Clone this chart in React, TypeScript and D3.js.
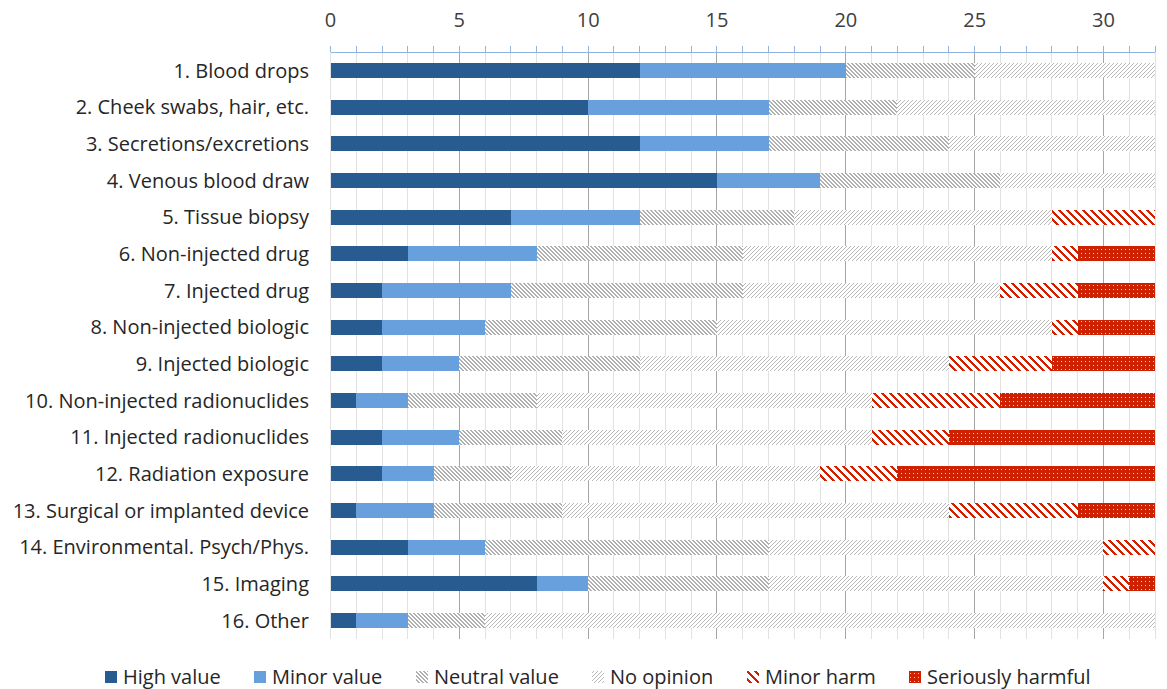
import React from "react";
import * as d3 from "d3";

// Survey categories (top to bottom)
const categories = [
  "1. Blood drops",
  "2. Cheek swabs, hair, etc.",
  "3. Secretions/excretions",
  "4. Venous blood draw",
  "5. Tissue biopsy",
  "6. Non-injected drug",
  "7. Injected drug",
  "8. Non-injected biologic",
  "9. Injected biologic",
  "10. Non-injected radionuclides",
  "11. Injected radionuclides",
  "12. Radiation exposure",
  "13. Surgical or implanted device",
  "14. Environmental. Psych/Phys.",
  "15. Imaging",
  "16. Other",
];

// Response counts per category
const highValue = [12, 10, 12, 15, 7, 3, 2, 2, 2, 1, 2, 2, 1, 3, 8, 1];
const minorValue = [8, 7, 5, 4, 5, 5, 5, 4, 3, 2, 3, 2, 3, 3, 2, 2];
const neutralValue = [5, 5, 7, 7, 6, 8, 9, 9, 7, 5, 4, 3, 5, 11, 7, 3];
const noOpinion = [7, 10, 8, 6, 10, 12, 10, 13, 12, 13, 12, 12, 15, 13, 13, 26];
const minorHarm = [0, 0, 0, 0, 4, 1, 3, 1, 4, 5, 3, 3, 5, 2, 1, 0];
const seriouslyHarmful = [0, 0, 0, 0, 0, 3, 3, 3, 4, 6, 8, 10, 3, 0, 1, 0];

const seriesNames = [
  "High value",
  "Minor value",
  "Neutral value",
  "No opinion",
  "Minor harm",
  "Seriously harmful",
];

const xTicks = [0, 5, 10, 15, 20, 25, 30];
const xMax = 32;

const FONT = "'Open Sans', sans-serif";
const RED = "#cf2000";

const fills = [
  "#285b90",
  "#67a0dc",
  "url(#pNeutral)",
  "url(#pNoOpinion)",
  "url(#pMinorHarm)",
  "url(#pSerious)",
];

// Pixel tile for diagonal hatching: dir 1 = "\", dir -1 = "/"
function diagPixels(size: number, period: number, thick: number, dir: number) {
  const px: { x: number; y: number }[] = [];
  for (let y = 0; y < size; y++) {
    for (let x = 0; x < size; x++) {
      const v = dir > 0 ? (x - y + size * 4) % period : (x + y) % period;
      if (v < thick) px.push({ x, y });
    }
  }
  return px;
}

function Hatch({ id, size, period, thick, dir, color }: any) {
  const px = diagPixels(size, period, thick, dir);
  return (
    <pattern id={id} patternUnits="userSpaceOnUse" width={size} height={size}>
      <rect width={size} height={size} fill="#ffffff" />
      {px.map((p, i) => (
        <rect key={i} x={p.x} y={p.y} width={1} height={1} fill={color} />
      ))}
    </pattern>
  );
}

export default function App() {
  const width = 1167;
  const height = 689;
  const left = 330.5;
  const right = 1155;
  const top = 52;
  const bottom = 639;

  const x = d3.scaleLinear().domain([0, xMax]).range([left, right]);
  const y = d3
    .scaleBand<string>()
    .domain(categories)
    .range([top, bottom])
    .paddingInner(0.59)
    .paddingOuter(0.295);

  const rows = categories.map((c, i) => ({
    cat: c,
    s0: highValue[i],
    s1: minorValue[i],
    s2: neutralValue[i],
    s3: noOpinion[i],
    s4: minorHarm[i],
    s5: seriouslyHarmful[i],
  }));
  const stack = d3.stack<any>().keys(["s0", "s1", "s2", "s3", "s4", "s5"]);
  const layers = stack(rows);

  const units = d3.range(0, xMax + 1);

  const legendX = [105, 254, 416, 592, 747, 909];

  return (
    <svg
      width={width}
      height={height}
      style={{ position: "absolute", left: 0, top: 0, background: "#fff" }}
      fontFamily={FONT}
    >
      <defs>
        <Hatch id="pNeutral" size={8} period={4} thick={2} dir={1} color="#b0b0b0" />
        <Hatch id="pNoOpinion" size={8} period={4} thick={1} dir={-1} color="#b8b8b8" />
        <Hatch id="pMinorHarm" size={8} period={8} thick={3} dir={1} color={RED} />
        <pattern id="pSerious" patternUnits="userSpaceOnUse" width={4} height={4}>
          <rect width={4} height={4} fill={RED} />
          <rect x={1} y={1} width={1} height={1} fill="#f7d0c4" />
        </pattern>
      </defs>

      {/* vertical gridlines */}
      <g shapeRendering="crispEdges">
        {units.map((u) => (
          <line
            key={u}
            x1={x(u)}
            x2={x(u)}
            y1={top}
            y2={bottom}
            stroke={u % 5 === 0 && u > 0 ? "#a6a6a6" : "#e2e2e2"}
            strokeWidth={1}
          />
        ))}
      </g>

      {/* stacked bars */}
      <g shapeRendering="crispEdges">
        {layers.map((layer, li) =>
          layer.map((d, i) => {
            const w = x(d[1]) - x(d[0]);
            if (w <= 0) return null;
            return (
              <rect
                key={`${li}-${i}`}
                x={x(d[0])}
                y={y(categories[i])}
                width={w}
                height={y.bandwidth()}
                fill={fills[li]}
              />
            );
          })
        )}
      </g>

      {/* top axis */}
      <g shapeRendering="crispEdges">
        <line x1={left} x2={right} y1={top} y2={top} stroke="#8fb4e3" strokeWidth={1} />
        {units.map((u) => (
          <line key={u} x1={x(u)} x2={x(u)} y1={top - 6} y2={top} stroke="#8fb4e3" />
        ))}
      </g>
      {xTicks.map((t) => (
        <text
          key={t}
          x={x(t)}
          y={27}
          textAnchor="middle"
          fontSize={20}
          fill="#404040"
        >
          {t}
        </text>
      ))}

      {/* category labels */}
      {categories.map((c) => (
        <text
          key={c}
          x={309}
          y={(y(c) as number) + y.bandwidth() / 2}
          dy="0.36em"
          textAnchor="end"
          fontSize={20}
          fill="#262626"
        >
          {c}
        </text>
      ))}

      {/* legend */}
      {seriesNames.map((n, i) => (
        <g key={n} transform={`translate(${legendX[i]},0)`}>
          <rect x={0} y={671} width={12} height={12} fill={fills[i]} shapeRendering="crispEdges" />
          <text x={18} y={684} fontSize={20} fill="#262626">
            {n}
          </text>
        </g>
      ))}
    </svg>
  );
}
